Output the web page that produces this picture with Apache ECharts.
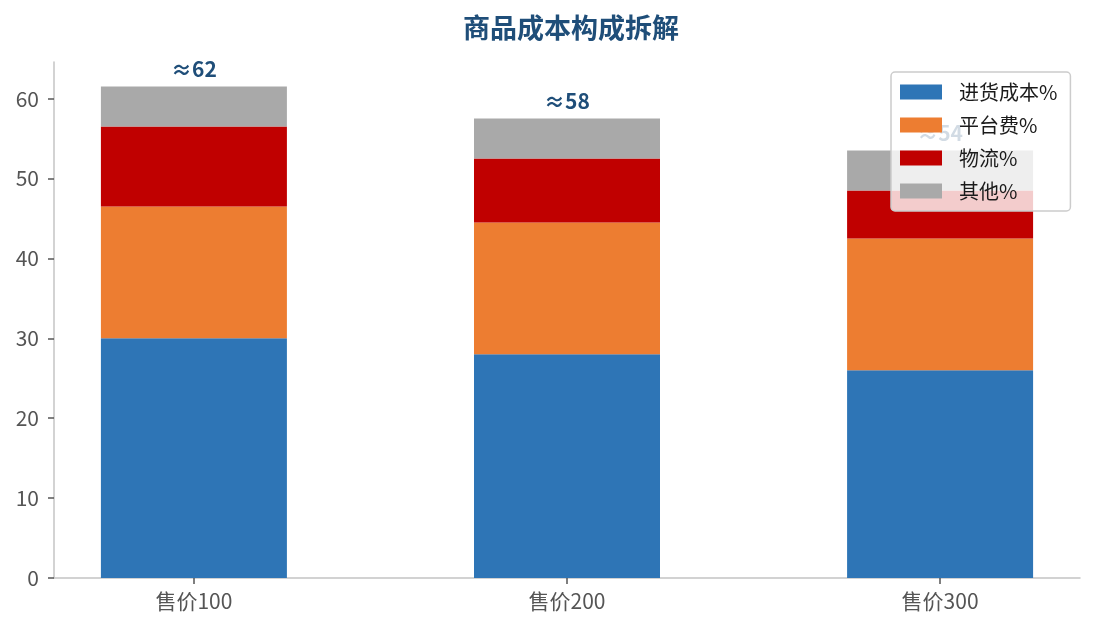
<!DOCTYPE html>
<html>
<head>
<meta charset="utf-8">
<script src="https://cdn.jsdelivr.net/npm/echarts@6/dist/echarts.min.js"></script>
<style>
  html, body { margin: 0; padding: 0; background: #fff; }
  #costChart { width: 1095px; height: 630px; }
</style>
</head>
<body>
<div id="costChart"></div>
<script>
// 数据
const categories = ['售价100', '售价200', '售价300'];
const purchaseCost = [30, 28, 26];
const platformFee = [16.5, 16.5, 16.5];
const logistics = [10, 8, 6];
const others = [5, 5, 5];
const seriesNames = ['进货成本%', '平台费%', '物流%', '其他%'];
const colors = ['#2e75b6', '#ed7d31', '#c00000', '#a9a9a9'];
const yTicks = [0, 10, 20, 30, 40, 50, 60];

const totals = categories.map((_, i) => purchaseCost[i] + platformFee[i] + logistics[i] + others[i]);
// 值放在第一列，这样堆叠作用在y方向
const toPairs = arr => arr.map((v, i) => [v, i]);

const font = '"Noto Sans CJK SC", "Noto Sans", sans-serif';

//初始化echarts
const getInitEcharts = () => {
  const chartDom = document.getElementById('costChart');
  const myChart = echarts.init(chartDom);
  const values = [purchaseCost, platformFee, logistics, others];
  const series = values.map((arr, k) => {
    const s = {
      name: seriesNames[k],
      type: 'bar',
      stack: 'cost',
      barWidth: 186,
      encode: { x: 1, y: 0 },
      itemStyle: { color: colors[k] },
      data: toPairs(arr)
    };
    if (k === values.length - 1) {
      s.label = {
        show: true,
        position: 'top',
        distance: 7,
        fontFamily: font,
        fontSize: 21,
        fontWeight: 'bold',
        color: '#1f4e79',
        formatter: p => '≈' + Math.round(totals[p.data[1]])
      };
    }
    return s;
  });

  const option = {
    animation: false,
    title: {
      text: '商品成本构成拆解',
      left: 566,
      textAlign: 'center',
      top: 9,
      textStyle: { fontFamily: font, fontSize: 27, fontWeight: 'bold', color: '#1f4e79' }
    },
    legend: {
      data: seriesNames,
      orient: 'vertical',
      left: 891,
      top: 72,
      padding: [10, 13, 10, 9],
      icon: 'rect',
      itemWidth: 42,
      itemHeight: 15,
      itemGap: 13,
      align: 'left',
      backgroundColor: 'rgba(255,255,255,0.8)',
      borderColor: '#cccccc',
      borderWidth: 1.5,
      borderRadius: 4,
      textStyle: { fontFamily: font, fontSize: 20, color: '#1a1a1a', padding: [0, 0, 0, 12] }
    },
    grid: { left: 54, right: 15, top: 62, bottom: 52 },
    xAxis: {
      type: 'value',
      min: -0.375,
      max: 2.375,
      splitLine: { show: false },
      axisLine: { show: true, onZero: false, lineStyle: { color: '#c4c4c4', width: 1.5 } },
      axisTick: { show: true, customValues: [0, 1, 2], length: 6, lineStyle: { color: '#555', width: 1.5 } },
      axisLabel: {
        customValues: [0, 1, 2],
        formatter: v => categories[Math.round(v)],
        fontFamily: font,
        fontSize: 21,
        color: '#555',
        margin: 13
      }
    },
    yAxis: {
      type: 'value',
      min: 0,
      max: 64.575,
      splitLine: { show: false },
      axisLine: { show: true, onZero: false, lineStyle: { color: '#c4c4c4', width: 1.5 } },
      axisTick: { show: true, customValues: yTicks, length: 6, lineStyle: { color: '#555', width: 1.5 } },
      axisLabel: {
        customValues: yTicks,
        fontFamily: font,
        fontSize: 21,
        color: '#555',
        margin: 15
      }
    },
    series
  };
  myChart.setOption(option);
}

getInitEcharts();
</script>
</body>
</html>
